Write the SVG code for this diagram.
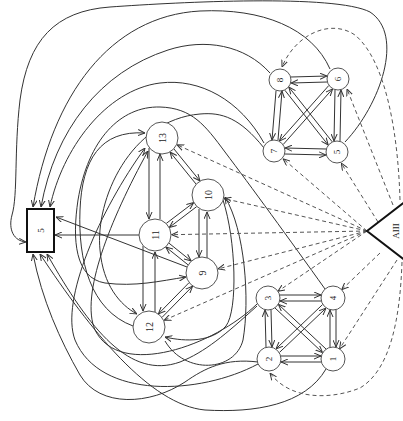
<svg xmlns="http://www.w3.org/2000/svg" width="403" height="421" viewBox="0 0 403 421">
<style>
.e{fill:none;stroke:#333;stroke-width:1}
.d{fill:none;stroke:#555;stroke-width:1;stroke-dasharray:4,3}
.n circle{fill:#fff;stroke:#555;stroke-width:1}
.t{font-family:"Liberation Serif","DejaVu Serif",serif;fill:#222;text-anchor:middle;dominant-baseline:central}
</style>
<defs>
<marker id="a" markerWidth="7" markerHeight="7" refX="7" refY="3.5" orient="auto" markerUnits="userSpaceOnUse">
<path d="M0,0.5 L7,3.5 L0,6.5" fill="none" stroke="#333" stroke-width="1" stroke-dasharray="none"/>
</marker>
</defs>
<rect width="403" height="421" fill="#fff"/>
<g id="connectors">
<!-- cluster 5-8 -->
<path class="e" marker-end="url(#a)" d="M291,77 L327,76"/>
<path class="e" marker-end="url(#a)" d="M327,82 L291,83"/>
<path class="e" marker-end="url(#a)" d="M326,149 L285,148"/>
<path class="e" marker-end="url(#a)" d="M285,154 L326,155"/>
<path class="e" marker-end="url(#a)" d="M276,91 L272,140"/>
<path class="e" marker-end="url(#a)" d="M278,140 L282,91"/>
<path class="e" marker-end="url(#a)" d="M335,90 L334,141"/>
<path class="e" marker-end="url(#a)" d="M340,141 L341,90"/>
<path class="e" marker-end="url(#a)" d="M284.8,90.2 L328.2,145"/>
<path class="e" marker-end="url(#a)" d="M332.2,141.8 L288.8,87"/>
<path class="e" marker-end="url(#a)" d="M328.8,85.5 L279.4,141.1"/>
<path class="e" marker-end="url(#a)" d="M283.2,144.5 L332.6,88.9"/>
<!-- cluster 1-4 -->
<path class="e" marker-end="url(#a)" d="M280,295 L321,295"/>
<path class="e" marker-end="url(#a)" d="M321,301 L280,301"/>
<path class="e" marker-end="url(#a)" d="M281,356 L321,356"/>
<path class="e" marker-end="url(#a)" d="M321,362 L281,362"/>
<path class="e" marker-end="url(#a)" d="M266,347 L265,310"/>
<path class="e" marker-end="url(#a)" d="M271,310 L272,347"/>
<path class="e" marker-end="url(#a)" d="M330,347 L330,310"/>
<path class="e" marker-end="url(#a)" d="M336,310 L336,347"/>
<path class="e" marker-end="url(#a)" d="M275,308 L322.6,352.6"/>
<path class="e" marker-end="url(#a)" d="M326,349 L278.4,304.4"/>
<path class="e" marker-end="url(#a)" d="M322.6,304.5 L276,348.9"/>
<path class="e" marker-end="url(#a)" d="M279.4,352.5 L326,308.1"/>
<!-- middle cluster -->
<path class="e" marker-end="url(#a)" d="M149,148 L149,219"/>
<path class="e" marker-end="url(#a)" d="M160,219 L160,154"/>
<path class="e" marker-end="url(#a)" d="M143,246 L143,311"/>
<path class="e" marker-end="url(#a)" d="M155,312 L155,252"/>
<path class="e" marker-end="url(#a)" d="M199,209 L199,257"/>
<path class="e" marker-end="url(#a)" d="M207,258 L207,212"/>
<path class="e" marker-end="url(#a)" d="M174,149 L200,181"/>
<path class="e" marker-end="url(#a)" d="M196,184 L170,152"/>
<path class="e" marker-end="url(#a)" d="M166.3,223.4 L193.7,202.6"/>
<path class="e" marker-end="url(#a)" d="M196.7,206.6 L169.3,227.4"/>
<path class="e" marker-end="url(#a)" d="M169,243.2 L191.2,261"/>
<path class="e" marker-end="url(#a)" d="M188,264.8 L165.8,247"/>
<path class="e" marker-end="url(#a)" d="M189,282.7 L158.4,313.9"/>
<path class="e" marker-end="url(#a)" d="M162,317.4 L192.6,286.2"/>
<path class="e" marker-end="url(#a)" d="M139,235 L55,235"/>
<path class="e" marker-end="url(#a)" d="M187,267 L56,217"/>
<!-- long curves -->
<path class="e" marker-end="url(#a)" d="M345,142 C380,105 405,35 370,12 C335,-6 180,2 110,7 C55,11 28,40 20,100 C14,150 18,195 12,215 C8,230 14,241 26,242"/>
<path class="e" marker-end="url(#a)" d="M330,69 C312,28 262,8 200,11 C110,16 52,95 33,207"/>
<path class="e" marker-end="url(#a)" d="M270,73 C245,45 205,38 168,50 C100,72 55,130 41,207"/>
<path class="e" marker-end="url(#a)" d="M264,143 C240,100 200,78 160,83 C105,90 62,150 50,207"/>
<path class="e" marker-end="url(#a)" d="M325,289 C290,240 250,185 225,152 C205,125 192,108 160,107 C120,106 88,140 78,200 C72,240 75,278 105,283 C135,287 160,281 186,277"/>
<path class="e" marker-end="url(#a)" d="M264,148 C240,118 222,112 200,114 C130,120 95,200 100,250 C103,285 120,305 137,314"/>
<path class="e" marker-end="url(#a)" d="M133,326 C90,310 78,260 80,210 C82,160 100,130 145,133"/>
<path class="e" marker-end="url(#a)" d="M258,364 C200,395 100,400 75,340 C60,300 100,210 145,148"/>
<path class="e" marker-end="url(#a)" d="M257,304 C215,345 120,380 95,330 C80,295 110,220 148,151"/>
<path class="e" marker-end="url(#a)" d="M223,200 C236,240 238,310 226,326 C212,342 186,342 165,337"/>
<path class="e" marker-end="url(#a)" d="M165,341 C185,375 235,372 243,340 C250,300 245,230 225,197"/>
<path class="e" marker-end="url(#a)" d="M258,362 C225,358 205,368 185,382 C150,405 100,408 80,375 C60,340 42,300 33,254"/>
<path class="e" marker-end="url(#a)" d="M326,369 C305,405 255,413 205,410 C150,405 90,330 40,254"/>
<path class="e" marker-end="url(#a)" d="M257,306 C225,335 205,352 180,362 C130,380 90,330 47,254"/>
<!-- dashed from AIII -->
<path class="d" marker-end="url(#a)" d="M367,231 L177,144.8"/>
<path class="d" marker-end="url(#a)" d="M367,231 L224.1,198.6"/>
<path class="d" marker-end="url(#a)" d="M367,231 L171.5,234.7"/>
<path class="d" marker-end="url(#a)" d="M367,231 L218,268.9"/>
<path class="d" marker-end="url(#a)" d="M367,231 L164.1,320.3"/>
<path class="d" marker-end="url(#a)" d="M367,231 L283.1,158.8"/>
<path class="d" marker-end="url(#a)" d="M378,222 L341.3,163.2"/>
<path class="d" marker-end="url(#a)" d="M367,231 L277.9,291.3"/>
<path class="d" marker-end="url(#a)" d="M380,253 L341.7,289.7"/>
<path class="d" marker-end="url(#a)" d="M397,260 L339.5,348.9"/>
<path class="d" marker-end="url(#a)" d="M402,262 C400,320 390,370 360,388 C330,400 290,400 270,373"/>
<path class="d" marker-end="url(#a)" d="M393,205 L347,89"/>
<path class="d" marker-end="url(#a)" d="M400,200 C398,130 385,60 355,35 C330,18 295,35 282,67"/>
</g>
<g id="AIII">
<polygon points="367,231 420,190 420,272" fill="#fff" stroke="#111" stroke-width="2"/>
<text class="t" font-size="9" x="396" y="231" transform="rotate(-90 396 231)">AIII</text>
</g>
<g id="box5">
<rect x="27" y="209" width="27" height="43" fill="#fff" stroke="#111" stroke-width="2"/>
<text class="t" font-size="9" x="40.5" y="230.5" transform="rotate(-90 40.5 230.5)">5</text>
</g>
<g id="n8" class="n"><circle cx="280" cy="80" r="11"/><text class="t" font-size="9" x="280" y="80" transform="rotate(-90 280 80)">8</text></g>
<g id="n6" class="n"><circle cx="338" cy="79" r="11"/><text class="t" font-size="9" x="338" y="79" transform="rotate(-90 338 79)">6</text></g>
<g id="n7" class="n"><circle cx="274" cy="151" r="11"/><text class="t" font-size="9" x="274" y="151" transform="rotate(-90 274 151)">7</text></g>
<g id="n5" class="n"><circle cx="337" cy="152" r="11"/><text class="t" font-size="9" x="337" y="152" transform="rotate(-90 337 152)">5</text></g>
<g id="n3" class="n"><circle cx="268" cy="298" r="12"/><text class="t" font-size="9" x="268" y="298" transform="rotate(-90 268 298)">3</text></g>
<g id="n4" class="n"><circle cx="333" cy="298" r="12"/><text class="t" font-size="9" x="333" y="298" transform="rotate(-90 333 298)">4</text></g>
<g id="n2" class="n"><circle cx="269" cy="359" r="12"/><text class="t" font-size="9" x="269" y="359" transform="rotate(-90 269 359)">2</text></g>
<g id="n1" class="n"><circle cx="333" cy="359" r="12"/><text class="t" font-size="9" x="333" y="359" transform="rotate(-90 333 359)">1</text></g>
<g id="n13" class="n"><circle cx="162" cy="138" r="16"/><text class="t" font-size="10" x="162" y="138" transform="rotate(-90 162 138)">13</text></g>
<g id="n10" class="n"><circle cx="208" cy="195" r="16"/><text class="t" font-size="10" x="208" y="195" transform="rotate(-90 208 195)">10</text></g>
<g id="n11" class="n"><circle cx="155" cy="235" r="16"/><text class="t" font-size="10" x="155" y="235" transform="rotate(-90 155 235)">11</text></g>
<g id="n9" class="n"><circle cx="202" cy="273" r="16"/><text class="t" font-size="10" x="202" y="273" transform="rotate(-90 202 273)">9</text></g>
<g id="n12" class="n"><circle cx="149" cy="327" r="16"/><text class="t" font-size="10" x="149" y="327" transform="rotate(-90 149 327)">12</text></g>
</svg>
